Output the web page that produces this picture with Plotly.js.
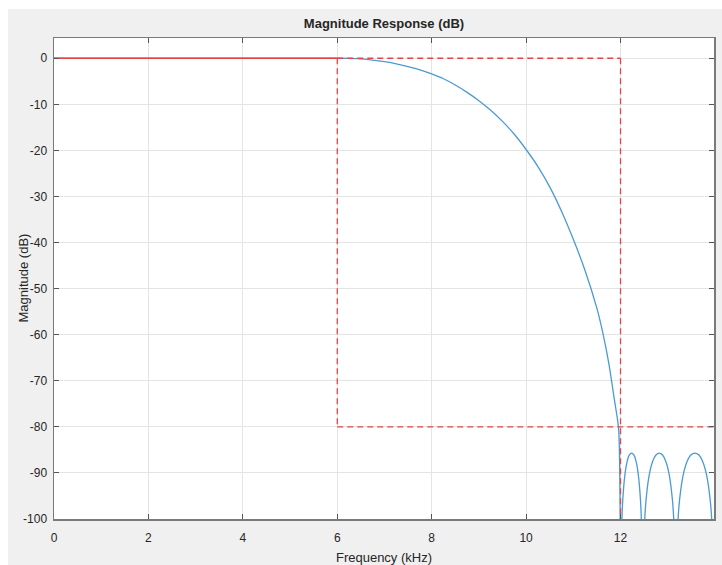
<!DOCTYPE html>
<html>
<head>
<meta charset="utf-8">
<script src="https://cdn.plot.ly/plotly-3.0.1.min.js"></script>
<style>
  html, body { margin: 0; padding: 0; background: #ffffff; }
  #chart { width: 722px; height: 565px; }
</style>
</head>
<body>
<div id="chart"></div>
<script>
// ---- Data ----
// Filter magnitude response, main lobe (kHz, dB)
const respFreq = [0, 1, 2, 3, 4, 5, 6, 6.25, 6.5, 6.75, 7.0, 7.25, 7.5, 7.75, 8.0, 8.25, 8.5, 8.75, 9.0, 9.25, 9.5, 9.75, 10.0, 10.25, 10.5, 10.75, 11.0, 11.25, 11.5, 11.625, 11.75, 11.875, 11.96, 12.0];
const respMag  = [0, 0, 0, 0, 0, 0, 0, -0.03, -0.15, -0.4, -0.75, -1.2, -1.8, -2.5, -3.4, -4.45, -5.8, -7.4, -9.2, -11.3, -13.7, -16.5, -19.8, -23.5, -27.9, -33.2, -39.3, -46.1, -54.3, -59.6, -66.1, -74.4, -80.5, -120];
// Stopband ripple (three lobes near -86 dB)
const stopFreq = [12.0, 12.024, 12.047, 12.094, 12.141, 12.188, 12.235, 12.282, 12.329, 12.376, 12.423, 12.446, 12.47,
                  12.505, 12.54, 12.61, 12.68, 12.75, 12.82, 12.89, 12.96, 13.03, 13.10, 13.135, 13.17,
                  13.21, 13.25, 13.33, 13.41, 13.49, 13.575, 13.66, 13.74, 13.82, 13.90, 13.94, 13.98];
const stopMag  = [-120, -101.8, -95.9, -90.3, -87.5, -86.1, -85.7, -86.1, -87.5, -90.3, -95.9, -101.8, -120,
                  -101.8, -95.9, -90.3, -87.5, -86.1, -85.7, -86.1, -87.5, -90.3, -95.9, -101.8, -120,
                  -101.8, -95.9, -90.3, -87.5, -86.1, -85.7, -86.1, -87.5, -90.3, -95.9, -101.8, -120];
// Specification mask (kHz, dB)
const passFreq = [0, 6];
const passMag  = [0, 0];
const maskTopFreq = [6, 12];
const maskTopMag  = [0, 0];
const maskFpFreq = [6, 6];
const maskFpMag  = [0, -80];
const maskFsFreq = [12, 12];
const maskFsMag  = [0, -100];
const maskStopFreq = [6, 13.98];
const maskStopMag  = [-80, -80];

const xTicks = [0, 2, 4, 6, 8, 10, 12];
const yTicks = [0, -10, -20, -30, -40, -50, -60, -70, -80, -90, -100];

// ---- Styles ----
const blue = '#4a9ad4';
const red = '#e0464a';
const FONT = '"Liberation Sans Narrow", "Arial Narrow", "Liberation Sans", Arial, sans-serif';
const txt = '#262626';

const mainTrace = {x: respFreq, y: respMag, type: 'scatter', mode: 'lines',
  line: {color: blue, width: 1.3, shape: 'spline', smoothing: 0.6}, hoverinfo: 'skip', showlegend: false};
const stopTrace = {x: stopFreq, y: stopMag, type: 'scatter', mode: 'lines',
  line: {color: blue, width: 1.3, shape: 'spline', smoothing: 0.8}, hoverinfo: 'skip', showlegend: false};
function maskTrace(x, y, dash) {
  return {x: x, y: y, type: 'scatter', mode: 'lines', line: {color: red, width: 1.3, dash: dash},
    hoverinfo: 'skip', showlegend: false};
}
const traces = [
  mainTrace,
  stopTrace,
  maskTrace(passFreq, passMag, 'solid'),
  maskTrace(maskTopFreq, maskTopMag, '6px,4px'),
  maskTrace(maskFpFreq, maskFpMag, '6px,4px'),
  maskTrace(maskFsFreq, maskFsMag, '6px,4px'),
  maskTrace(maskStopFreq, maskStopMag, '6px,4px')
];

const layout = {
  width: 722, height: 565,
  margin: {l: 54, r: 8, t: 38, b: 46, pad: 0},
  paper_bgcolor: '#ffffff',
  plot_bgcolor: '#ffffff',
  font: {family: FONT, size: 12, color: txt},
  title: {text: '<b>Magnitude Response (dB)</b>', font: {family: FONT, size: 13, color: txt},
    x: 0.5, xref: 'paper', xanchor: 'center', y: 1 - 23/565, yref: 'container', yanchor: 'middle'},
  xaxis: {
    range: [0, 13.98], tickvals: xTicks, ticktext: xTicks.map(String),
    showgrid: true, gridcolor: '#e4e4e4', gridwidth: 1, zeroline: false,
    showline: true, linecolor: '#7a7a7a', linewidth: 1.5, mirror: 'ticks',
    ticks: 'inside', ticklen: 5, tickcolor: '#555555', tickwidth: 1,
    ticklabelstandoff: 7,
    tickfont: {family: FONT, size: 12, color: txt},
    title: {text: 'Frequency (kHz)', font: {family: FONT, size: 13, color: txt}, standoff: 16},
    fixedrange: true
  },
  yaxis: {
    range: [-100, 4.4], tickvals: yTicks, ticktext: yTicks.map(String),
    showgrid: true, gridcolor: '#e4e4e4', gridwidth: 1, zeroline: false,
    showline: true, linecolor: '#7a7a7a', linewidth: 1.5, mirror: 'ticks',
    ticks: 'inside', ticklen: 5, tickcolor: '#555555', tickwidth: 1,
    ticklabelstandoff: 3,
    tickfont: {family: FONT, size: 12, color: txt},
    fixedrange: true
  },
  annotations: [
    {text: 'Magnitude (dB)', xref: 'paper', yref: 'paper', x: (23 - 54) / 660, y: 0.5,
     xanchor: 'center', yanchor: 'middle', textangle: -90, showarrow: false,
     font: {family: FONT, size: 13, color: txt}}
  ],
  shapes: [
    {type: 'rect', xref: 'paper', yref: 'paper', layer: 'below',
     x0: (8 - 54) / 660, x1: (722 - 54) / 660, y0: -(565 - 519) / 481, y1: 1 + (38 - 9) / 481,
     fillcolor: '#f0f0f0', line: {width: 0}},
    {type: 'rect', xref: 'paper', yref: 'paper', layer: 'below',
     x0: 0, x1: 1, y0: 0, y1: 1, fillcolor: '#ffffff', line: {width: 0}}
  ]
};

Plotly.newPlot('chart', traces, layout, {displayModeBar: false, staticPlot: true});
</script>
</body>
</html>
